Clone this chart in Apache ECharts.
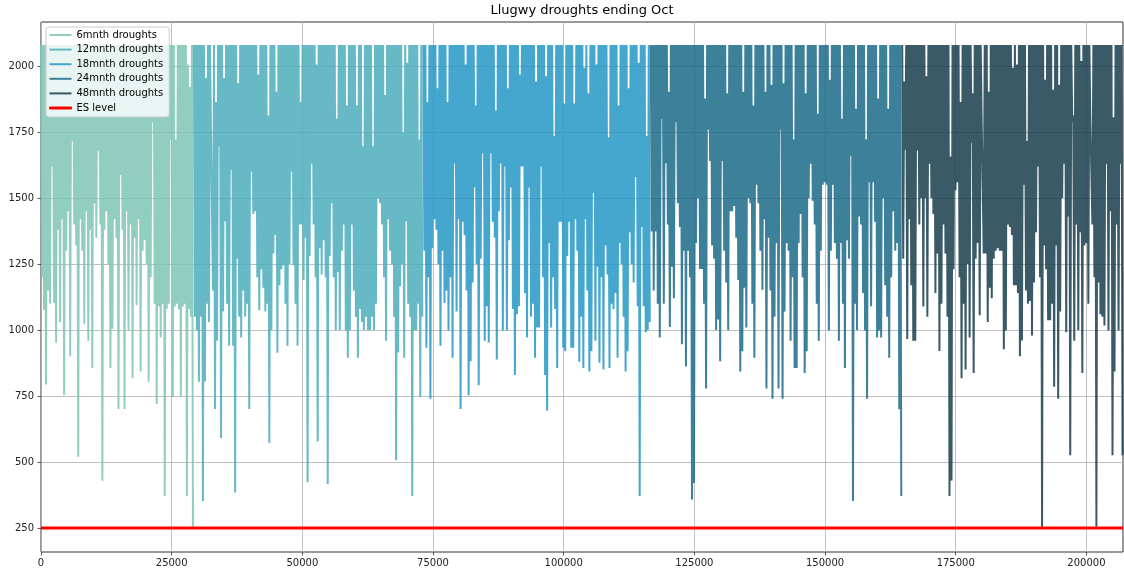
<!DOCTYPE html>
<html>
<head>
<meta charset="utf-8">
<title>Llugwy droughts ending Oct</title>
<script src="https://cdn.jsdelivr.net/npm/echarts@6/dist/echarts.min.js"></script>
<style>
  html, body { margin: 0; padding: 0; background: #ffffff; }
  #chart { width: 1124px; height: 574px; }
</style>
</head>
<body>
<div id="chart"></div>
<script>
// ---- data -------------------------------------------------------------
const seriesNames = ['6mnth droughts', '12mnth droughts', '18mnth droughts', '24mnth droughts', '48mnth droughts'];
const esName = 'ES level';
const esLevel = 250;

// x position of the first reading of each drought series and spacing between readings
const seriesStartX = [0, 29250, 73150, 116650, 164760];
const readingStep = 385;
// storage ceiling each drought trace normally returns to between troughs
const ceilingLevel = 2080;

const xTicks = [0, 25000, 50000, 75000, 100000, 125000, 150000, 175000, 200000];
const yTicks = [250, 500, 750, 1000, 1250, 1500, 1750, 2000];
const xMax = 207000;
const yMin = 159;
const yMax = 2167;

// trough level for each reading
const lows6 = [1200,1076,794,1150,1100,1619,1102,953,1380,1030,
  1420,753,1300,1450,901,1716,1400,1320,520,1420,
  1300,1024,1450,959,1380,856,1480,1350,1677,1400,
  429,1380,1450,1250,856,1005,1420,1350,701,1586,
  1380,701,1450,998,1400,817,1350,1095,1420,843,
  1300,1341,1250,804,1200,1787,1100,720,1090,972,
  1100,371,1080,1100,1722,746,1089,1100,1080,746,
  1089,1100,371,1080,1050,255];

const lows12 = [1050,1000,804,1050,352,805,1100,1030,1748,1150,
  701,959,1696,591,1070,1412,1100,940,1606,940,
  384,1270,1050,972,1150,1050,1100,701,1600,1440,
  1450,1200,1075,1230,1160,1070,1100,572,1000,1290,
  1360,914,1170,1230,1245,1100,940,1250,1600,1245,
  1100,940,1400,1400,1190,1350,423,1280,1630,1400,
  1200,578,1310,1210,1340,1200,417,1280,1480,1200,
  1000,1220,1000,1300,1400,1000,895,1000,1400,1150,
  1050,895,1080,1030,1000,1050,1000,1000,1050,1000,
  1100,1500,1480,1400,1200,959,1420,1300,1250,1050,
  507,915,1166,1250,895,1412,1100,1050,371,1000,
  1000,1100,746,1050];

const lows18 = [1300,933,1200,740,1310,1420,1380,1250,940,1300,
  1102,1150,998,1200,895,1631,1070,1420,701,1410,
  1360,1150,753,882,1180,1540,1250,791,1270,1670,
  959,1090,953,1670,1410,1350,888,1450,1631,998,
  1620,998,1340,1540,1080,830,1060,1090,1620,1620,
  1140,972,1540,1050,1100,895,1010,1010,1620,1200,
  830,694,1330,1010,1200,1080,856,1410,1410,933,
  920,1280,1410,933,933,1420,1300,880,1050,856,
  1420,1150,843,920,1520,959,1240,876,1200,850,
  1320,1210,856,1100,1080,1140,895,1330,1250,1050,
  843,920,1370,1250,1180,1580,1090,371,1390,1090,
  992,1000,1030];

const lows24 = [1373,1150,1373,1100,972,1800,1100,1632,1400,1011,
  1240,1120,1787,1480,1390,946,1300,862,1300,1200,
  358,420,1330,1500,1231,1231,1100,778,1760,1640,
  1320,1270,1000,1040,882,1640,1300,1180,1000,1450,
  1450,1470,1350,1190,843,920,1160,1010,1500,1480,
  1100,895,1550,1480,1300,1153,1420,778,1350,1150,
  740,1050,1330,778,1760,740,1070,1330,1300,959,
  1200,856,856,1330,1440,1200,837,920,1500,1630,
  1490,1400,1100,959,1300,1550,1560,1550,998,1300,
  1550,1330,1270,959,1330,1100,856,1340,1270,1660,
  352,1100,1000,1430,1400,1140,998,740,1560,1090,
  1560,1410,972,998,972,1500,1170,1050,895,1200,
  1450,1300,1330,700,371];

const lows48 = [1270,1683,966,1420,1170,959,959,1680,1400,1500,
  1089,1500,1050,1630,1500,1440,1140,1290,921,1100,
  1400,1290,1050,371,430,1230,1530,1560,1200,817,
  1100,850,1250,972,1710,837,1270,1330,1056,1787,
  1290,1290,1030,1160,1120,1270,1300,1310,1300,1300,
  927,998,1400,1390,1360,1170,1170,1140,901,960,
  1550,1150,1100,1110,979,1180,1370,1620,1200,250,
  1320,1230,1037,1037,1100,785,1320,740,1070,1500,
  1630,992,1430,526,1790,959,1400,1000,1370,837,
  1320,1330,1100,1790,1400,1200,256,1180,1060,1050,
  1017,1630,998,1450,526,843,1400,998,1630,526];

// readings whose peak stays below the ceiling: [reading index, peak level]
const peaks6 = [[67, 1722], [73, 2006], [74, 1922]];
const peaks12 = [[6, 1955], [9, 1748], [11, 1864], [15, 1955], [22, 1935], [32, 1968],
  [37, 1813], [41, 1903], [53, 1864], [61, 2006], [71, 1800], [76, 1851], [81, 1851],
  [84, 1696], [89, 1696], [95, 1890], [104, 1748], [106, 2013], [112, 1722]];
const peaks18 = [[2, 1864], [7, 1916], [12, 1864], [21, 2006], [26, 1851], [36, 1832],
  [42, 1916], [48, 1968], [56, 1942], [61, 1961], [65, 1735], [70, 1858], [75, 1858],
  [80, 1994], [82, 1897], [86, 2006], [92, 1729], [97, 1851], [102, 1916], [107, 2013], [111, 1735]];
const peaks24 = [[9, 1903], [27, 1877], [38, 1897], [46, 1903], [51, 1851], [57, 1903],
  [60, 1929], [66, 1935], [71, 1722], [77, 1897], [83, 1819], [89, 1948], [95, 1800],
  [102, 1838], [107, 1722], [113, 1877], [118, 1838]];
const peaks48 = [[1, 1942], [12, 1961], [24, 1657], [29, 1864], [35, 1897], [40, 1787],
  [43, 1903], [55, 1994], [57, 2006], [62, 1716], [71, 1948], [75, 1910], [78, 1929],
  [85, 1813], [89, 2019], [94, 1787], [105, 1806]];

const seriesLows = [lows6, lows12, lows18, lows24, lows48];
const seriesPeaks = [peaks6, peaks12, peaks18, peaks24, peaks48];

// ---- styling ----------------------------------------------------------
// traces are drawn semi-transparent so the grid shows faintly through them
const seriesColors = ['#7fc6b5', '#4cadbc', '#2498c4', '#1b6a87', '#183d4c'];
const traceOpacity = 0.85;
const esColor = '#ff0000';
const fontFamily = 'DejaVu Sans, Liberation Sans, sans-serif';

// each reading: trace rises to its peak (the ceiling unless listed), then drops to its trough
function buildTrace(startX, lows, peaks) {
  const peakAt = {};
  peaks.forEach(function (p) { peakAt[p[0]] = p[1]; });
  const pts = [];
  lows.forEach(function (low, i) {
    const x = startX + i * readingStep;
    pts.push([x, peakAt[i] !== undefined ? peakAt[i] : ceilingLevel]);
    pts.push([x + readingStep / 2, low]);
  });
  return pts;
}

const droughtSeries = seriesNames.map(function (name, k) {
  return {
    name: name,
    type: 'line',
    data: buildTrace(seriesStartX[k], seriesLows[k], seriesPeaks[k]),
    symbol: 'none',
    showSymbol: false,
    color: seriesColors[k],
    lineStyle: { width: 2, color: seriesColors[k], opacity: traceOpacity },
    itemStyle: { color: seriesColors[k], opacity: traceOpacity },
    emphasis: { disabled: true },
    z: 2
  };
});

const esSeries = {
  name: esName,
  type: 'line',
  data: [[0, esLevel], [xMax, esLevel]],
  symbol: 'none',
  showSymbol: false,
  color: esColor,
  lineStyle: { width: 3, color: esColor },
  itemStyle: { color: esColor },
  emphasis: { disabled: true },
  z: 3
};

const chart = echarts.init(document.getElementById('chart'), null, { renderer: 'canvas' });

chart.setOption({
  animation: false,
  backgroundColor: '#ffffff',
  title: {
    text: 'Llugwy droughts ending Oct',
    left: 582,
    textAlign: 'center',
    top: 4,
    padding: 0,
    textStyle: { fontFamily: fontFamily, fontSize: 13, fontWeight: 'normal', color: '#000000' }
  },
  legend: {
    orient: 'vertical',
    left: 46,
    top: 27,
    padding: [2, 6, 3, 3],
    itemWidth: 22,
    itemHeight: 2,
    itemGap: 2.6,
    icon: 'rect',
    backgroundColor: 'rgba(255,255,255,0.8)',
    borderColor: '#cccccc',
    borderWidth: 1,
    borderRadius: 3,
    selectedMode: false,
    textStyle: { fontFamily: fontFamily, fontSize: 10, lineHeight: 12, color: '#000000' },
    data: seriesNames.map(function (n) { return { name: n }; }).concat([
      { name: esName, itemStyle: { borderColor: esColor, borderWidth: 1 } }
    ]),
    z: 10
  },
  grid: {
    left: 41,
    right: 1,
    top: 22,
    bottom: 22,
    show: true,
    borderColor: '#333333',
    borderWidth: 1,
    backgroundColor: 'transparent'
  },
  xAxis: {
    type: 'value',
    min: 0,
    max: xMax,
    axisLine: { show: false },
    axisTick: { show: true, length: 3.5, customValues: xTicks, lineStyle: { color: '#333333', width: 0.8 } },
    axisLabel: {
      customValues: xTicks,
      margin: 6,
      color: '#222222',
      fontFamily: fontFamily,
      fontSize: 10,
      formatter: function (v) { return String(v); }
    },
    splitLine: { show: true, lineStyle: { color: '#b0b0b0', width: 0.8 } }
  },
  yAxis: {
    type: 'value',
    min: yMin,
    max: yMax,
    axisLine: { show: false },
    axisTick: { show: true, length: 3.5, customValues: yTicks, lineStyle: { color: '#333333', width: 0.8 } },
    axisLabel: {
      customValues: yTicks,
      margin: 7,
      color: '#222222',
      fontFamily: fontFamily,
      fontSize: 10,
      formatter: function (v) { return String(v); }
    },
    splitLine: { show: true, lineStyle: { color: '#b0b0b0', width: 0.8 } }
  },
  series: droughtSeries.concat([esSeries])
});
</script>
</body>
</html>
